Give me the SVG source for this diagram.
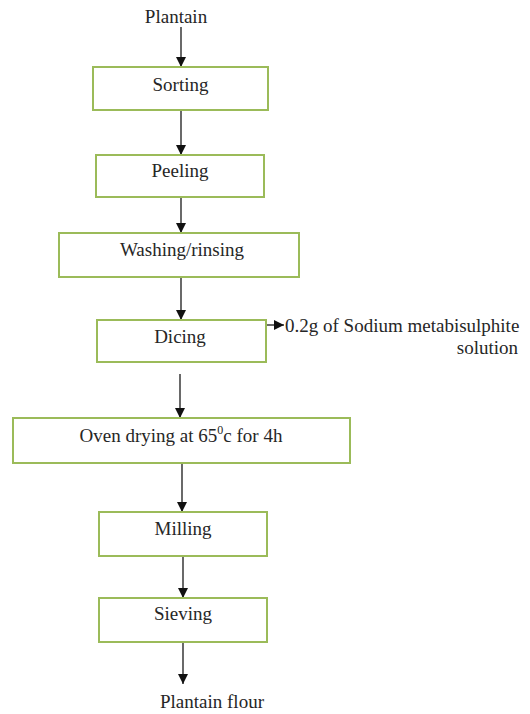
<svg xmlns="http://www.w3.org/2000/svg" width="530" height="714" viewBox="0 0 530 714">
<style>
.box{fill:#fff;stroke:#9bbb59;stroke-width:2}
.t{font-size:19px;fill:#262626;text-anchor:middle}
.c{stroke:#1a1a1a;stroke-width:1.3;fill:none;marker-end:url(#ah)}
</style>
<defs>
<marker id="ah" viewBox="0 0 10 10" refX="10" refY="5" markerWidth="10" markerHeight="10" markerUnits="userSpaceOnUse" orient="auto">
<path d="M0,0 L10,5 L0,10 z" fill="#111"/>
</marker>
</defs>
<rect width="530" height="714" fill="#fff"/>
<g id="connectors">
<line class="c" x1="181" y1="27" x2="181" y2="67"/>
<line class="c" x1="181" y1="110" x2="181" y2="155"/>
<line class="c" x1="181" y1="197" x2="181" y2="233"/>
<line class="c" x1="181" y1="277" x2="181" y2="320"/>
<line class="c" x1="266" y1="325" x2="284" y2="325"/>
<line class="c" x1="180" y1="374" x2="180" y2="418"/>
<line class="c" x1="182" y1="463" x2="182" y2="512"/>
<line class="c" x1="183" y1="556" x2="183" y2="598"/>
<line class="c" x1="183" y1="642" x2="183" y2="684"/>
</g>
<g font-family="'Liberation Serif', 'DejaVu Serif', serif">
<g id="plantain"><text class="t" x="176" y="23">Plantain</text></g>
<g id="sorting"><rect class="box" x="93" y="67" width="175" height="43"/><text class="t" x="180.5" y="91">Sorting</text></g>
<g id="peeling"><rect class="box" x="96" y="155" width="168" height="42"/><text class="t" x="180" y="177">Peeling</text></g>
<g id="washing"><rect class="box" x="59" y="233" width="240" height="44"/><text class="t" x="182" y="256">Washing/rinsing</text></g>
<g id="dicing"><rect class="box" x="97" y="320" width="169" height="42"/><text class="t" x="180" y="343">Dicing</text></g>
<g id="additive"><text class="t" x="285" y="332" style="text-anchor:start">0.2g of Sodium metabisulphite</text><text class="t" x="518" y="354" style="text-anchor:end">solution</text></g>
<g id="oven"><rect class="box" x="13" y="418" width="337" height="45"/><text class="t" x="181" y="442">Oven drying at 65<tspan font-size="12" dy="-8">0</tspan><tspan dy="8">c for 4h</tspan></text></g>
<g id="milling"><rect class="box" x="99" y="512" width="168" height="44"/><text class="t" x="183" y="535">Milling</text></g>
<g id="sieving"><rect class="box" x="99" y="598" width="168" height="44"/><text class="t" x="183" y="620">Sieving</text></g>
<g id="flour"><text class="t" x="212" y="708">Plantain flour</text></g>
</g>
</svg>
